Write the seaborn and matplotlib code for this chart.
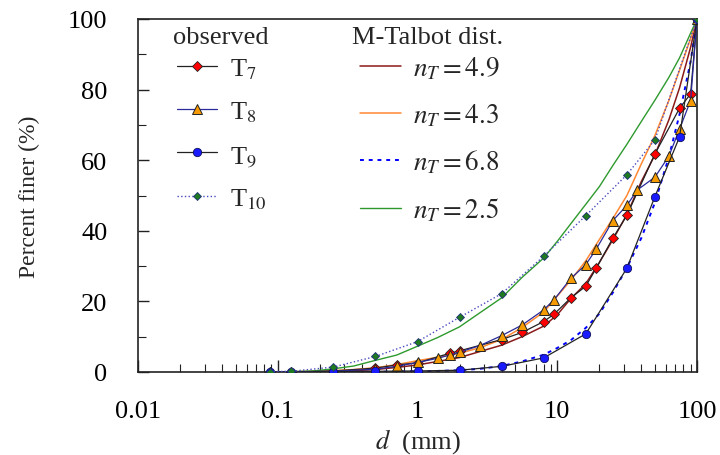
import numpy as np
import pandas as pd
import matplotlib
matplotlib.use("Agg")
import matplotlib.pyplot as plt
from matplotlib.ticker import FixedLocator, LogLocator, NullFormatter, FixedFormatter
import seaborn as sns

# observed gradations (sieve size in mm, percent finer)
d7 = [0.088, 0.125, 0.25, 0.5, 0.71, 1, 1.7, 2, 4, 5.6, 8, 9.5, 12.5, 16, 19, 25, 31.5, 50, 75, 90, 100]
p7 = [0, 0, 0.3, 1.1, 2.0, 2.6, 5.3, 6.0, 9.2, 11.2, 14.3, 16.4, 21.0, 24.3, 29.4, 37.9, 44.4, 61.8, 74.7, 78.8, 100]

d8 = [0.088, 0.125, 0.25, 0.5, 0.71, 1, 1.4, 1.7, 2, 2.8, 4, 5.6, 8, 9.5, 12.5, 16, 19, 25, 31.5, 37.5,
      50, 63, 75, 90, 100]
p8 = [0, 0, 0.2, 0.8, 1.6, 2.7, 3.9, 4.8, 5.6, 7.5, 10.3, 13.3, 17.6, 20.5, 26.5, 30.4, 34.8, 42.9, 47.2, 51.6,
      55.2, 61.2, 68.8, 76.9, 100]

d9 = [0.088, 0.125, 0.25, 0.5, 1, 2, 4, 8, 16, 31.5, 50, 75, 100]
p9 = [0, 0, 0.1, 0.2, 0.3, 0.5, 1.6, 4.0, 10.8, 29.4, 49.7, 66.6, 100]

d10 = [0.088, 0.125, 0.25, 0.5, 1, 2, 4, 8, 16, 31.5, 50, 100]
p10 = [0.1, 0.2, 1.4, 4.4, 8.6, 15.5, 22.2, 32.8, 44.3, 55.9, 65.8, 100]

# M-Talbot distribution curves
dm = [0.088, 0.125, 0.18, 0.25, 0.35, 0.5, 0.71, 1, 1.4, 2, 2.8, 4, 5.6, 8, 10, 12.5, 16, 20, 25, 31.5,
      40, 50, 63, 75, 90, 100]
m49 = [0, 0.05, 0.1, 0.2, 0.4, 0.7, 1.3, 2.0, 3.0, 4.1, 5.8, 7.6, 10.0, 13.0, 16.2, 20.8, 25.0, 31.0, 37.5, 44.6,
       54.0, 61.5, 71.5, 80.5, 92.0, 100]
m43 = [0, 0.1, 0.2, 0.4, 0.7, 1.2, 2.1, 3.2, 4.2, 5.3, 6.9, 9.2, 12.6, 17.0, 21.5, 26.0, 31.5, 37.5, 43.5, 50.0,
       59.0, 67.0, 77.0, 85.5, 94.5, 100]
m68 = [0, 0, 0, 0, 0, 0.05, 0.1, 0.2, 0.3, 0.5, 0.9, 1.7, 3.0, 4.9, 6.8, 9.0, 12.5, 16.5, 22.5, 29.5,
       38.0, 48.0, 61.0, 73.0, 88.0, 100]
m25 = [0, 0.1, 0.3, 0.9, 1.7, 3.3, 4.8, 7.3, 9.8, 12.8, 16.8, 21.0, 26.8, 32.3, 37.0, 42.0, 47.5, 52.5, 58.5, 64.5,
       71.0, 77.0, 83.5, 89.0, 96.0, 100]

obs_labels = ["T$_{7}$", "T$_{8}$", "T$_{9}$", "T$_{10}$"]
model_labels = ["$n_T = 4.9$", "$n_T = 4.3$", "$n_T = 6.8$", "$n_T = 2.5$"]

sns.set_theme(style="ticks")
plt.rcParams["font.family"] = ["Liberation Serif", "DejaVu Serif"]
plt.rcParams["mathtext.fontset"] = "stix"

fig = plt.figure(figsize=(7.2, 4.56), dpi=100)
ax = fig.add_axes([138 / 720, 83 / 456, 559 / 720, 353 / 456])
ax.set_xscale("log")

# model curves
model_styles = [
    dict(color="#8b1a1a", lw=1.1),
    dict(color="#ff8833", lw=1.1),
    dict(color="#0000ff", lw=1.4, dashes=(2, 2.5)),
    dict(color="#2e9a2e", lw=1.0),
]
model_handles = []
for vals, st in zip([m49, m43, m68, m25], model_styles):
    sns.lineplot(x=dm, y=vals, ax=ax, estimator=None, sort=False, legend=False, zorder=2, **st)
    model_handles.append(ax.lines[-1])

# observed
obs_series = [(d7, p7), (d8, p8), (d9, p9), (d10, p10)]
obs_styles = [
    dict(color="#222222", lw=0.9, marker="D", markersize=5, markerfacecolor="#ff0000",
         markeredgecolor="#222222", markeredgewidth=0.6),
    dict(color="#2a2a9a", lw=0.9, marker="^", markersize=7, markerfacecolor="#f59a00",
         markeredgecolor="#222222", markeredgewidth=0.7),
    dict(color="#222222", lw=0.9, marker="o", markersize=6, markerfacecolor="#1a1aff",
         markeredgecolor="#10105a", markeredgewidth=0.6),
    dict(color="#4a4ac0", lw=1.0, linestyle=":", marker="D", markersize=4.5, markerfacecolor="#1f7a1f",
         markeredgecolor="#20307a", markeredgewidth=0.6),
]
obs_handles = []
for (xs, ys), st in zip(obs_series, obs_styles):
    sns.lineplot(x=xs, y=ys, ax=ax, estimator=None, sort=False, legend=False, zorder=3, **st)
    obs_handles.append(ax.lines[-1])

ax.set_xlim(0.01, 100)
ax.set_ylim(0, 100)
ax.xaxis.set_major_locator(FixedLocator([0.01, 0.1, 1, 10, 100]))
ax.xaxis.set_major_formatter(FixedFormatter(["0.01", "0.1", "1", "10", "100"]))
ax.xaxis.set_minor_locator(LogLocator(base=10, subs=np.arange(2, 10)))
ax.xaxis.set_minor_formatter(NullFormatter())
ax.yaxis.set_major_locator(FixedLocator([0, 20, 40, 60, 80, 100]))
ax.yaxis.set_minor_locator(FixedLocator([10, 30, 50, 70, 90]))

ax.tick_params(which="both", direction="in", top=False, right=False, colors="#222222",
               labelsize=19, labelcolor="black")
ax.tick_params(axis="x", which="major", length=9, width=1.0, pad=20)
ax.tick_params(axis="x", which="minor", length=6, width=0.8)
ax.tick_params(axis="y", which="major", length=8, width=1.0, pad=22)
ax.tick_params(axis="y", which="minor", length=6, width=0.8)
for sp in ax.spines.values():
    sp.set_color("#222222")
    sp.set_linewidth(1.2)

ax.set_xlabel("$d$  (mm)", fontsize=19, labelpad=3)
ax.set_ylabel("Percent finer (%)", fontsize=17, labelpad=20)

# legend headers as plain text, legends below them
fig.text(173 / 720, 1 - 38 / 456, "observed", fontsize=19, va="center", ha="left")
fig.text(352 / 720, 1 - 38 / 456, "M-Talbot dist.", fontsize=19, va="center", ha="left")

leg1 = ax.legend(obs_handles, obs_labels, loc="upper left",
                 bbox_to_anchor=(177 / 720, 1 - 57 / 456), bbox_transform=fig.transFigure,
                 frameon=False, fontsize=19, numpoints=1,
                 handlelength=1.5, handletextpad=0.5, labelspacing=0.72, borderpad=0,
                 borderaxespad=0)
ax.add_artist(leg1)
ax.legend(model_handles, model_labels, loc="upper left",
          bbox_to_anchor=(360 / 720, 1 - 56 / 456), bbox_transform=fig.transFigure,
          frameon=False, fontsize=19.5,
          handlelength=1.5, handletextpad=0.45, labelspacing=0.74, borderpad=0,
          borderaxespad=0)

fig.savefig("out.png", dpi=100)
